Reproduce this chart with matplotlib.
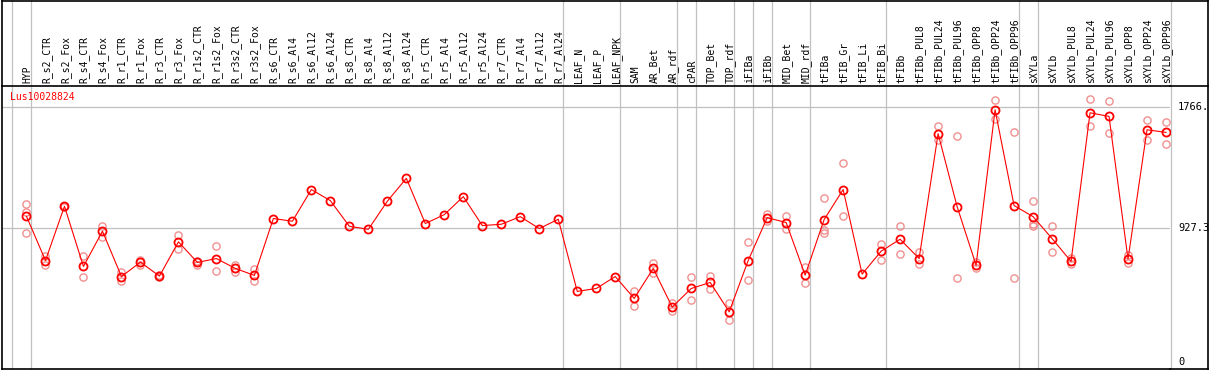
import matplotlib
matplotlib.use("Agg")
import matplotlib.pyplot as plt
from matplotlib.lines import Line2D

gene = "Lus10028824"

samples = ["HYP", "R_s2_CTR", "R_s2_Fox", "R_s4_CTR", "R_s4_Fox", "R_r1_CTR", "R_r1_Fox",
           "R_r3_CTR", "R_r3_Fox", "R_r1s2_CTR", "R_r1s2_Fox", "R_r3s2_CTR", "R_r3s2_Fox",
           "R_s6_CTR", "R_s6_Al4", "R_s6_Al12", "R_s6_Al24", "R_s8_CTR", "R_s8_Al4",
           "R_s8_Al12", "R_s8_Al24", "R_r5_CTR", "R_r5_Al4", "R_r5_Al12", "R_r5_Al24",
           "R_r7_CTR", "R_r7_Al4", "R_r7_Al12", "R_r7_Al24", "LEAF_N", "LEAF_P", "LEAF_NPK",
           "SAM", "AR_Bet", "AR_rdf", "cPAR", "TOP_Bet", "TOP_rdf", "iFIBa", "iFIBb",
           "MID_Bet", "MID_rdf", "tFIBa", "tFIB_Gr", "tFIB_Li", "tFIB_Bi", "tFIBb",
           "tFIBb_PUL8", "tFIBb_PUL24", "tFIBb_PUL96", "tFIBb_OPP8", "tFIBb_OPP24",
           "tFIBb_OPP96", "sXYLa", "sXYLb", "sXYLb_PUL8", "sXYLb_PUL24", "sXYLb_PUL96",
           "sXYLb_OPP8", "sXYLb_OPP24", "sXYLb_OPP96"]

means = [1010, 703, 1080, 662, 907, 592, 692, 595, 833, 690, 717, 648, 600,
         995, 976, 1196, 1119, 941, 920, 1115, 1274, 960, 1022, 1147, 946,
         955, 1008, 925, 990, 489, 509, 592,
         440, 648, 380, 509, 551, 347, 703, 1001, 967, 602,
         988, 1196, 609, 768, 851, 717, 1584, 1078, 671, 1750, 1085,
         1008, 856, 697, 1729, 1704, 713, 1611, 1593]

reps = [[1094, 1040, 891], [735, 671], [1085, 1075], [733, 590], [941, 867],
        [625, 560], [710, 673], [606, 590], [881, 784], [703, 671], [803, 632],
        [669, 625], [646, 560],
        [], [], [], [], [], [], [], [], [], [], [], [], [], [], [], [], [], [], [],
        [491, 387], [685, 618], [405, 354], [592, 428], [595, 507], [405, 290],
        [833, 565], [1027, 978], [1015, 923], [655, 549],
        [1140, 913, 895], [1383, 1015], [], [821, 710], [946, 747],
        [761, 676], [1634, 1537], [1570, 579], [694, 652], [1815, 1688], [1593, 579],
        [1119, 960, 943], [946, 759], [722, 680], [1826, 1637], [1812, 1591],
        [740, 683], [1676, 1542], [1667, 1515]]

# separators are drawn right after these sample indices
groups_end = [-1, 0, 28, 31, 34, 35, 37, 38, 39, 41, 45, 52, 53, 60]

grid_vals = [1766, 927.3]
ylabels = [(1766, "1766."), (927.3, "927.3"), (0, "0")]

W, H = 1209, 370
fig = plt.figure(figsize=(W / 100, H / 100), dpi=100)
ax = fig.add_axes([1.5 / W, 1 - 369 / H, (1170 - 1.5) / W, (369 - 85.5) / H])

ax.set_xlim(-25 / 19, 1144 / 19)
ax.set_ylim(-50, 1918.6)
ax.set_xticks([])
ax.set_yticks([])
for s in ["left", "bottom", "top"]:
    ax.spines[s].set_color("black")
    ax.spines[s].set_linewidth(1.2)
ax.spines["right"].set_visible(False)

grey = "#c0c0c0"
for g in grid_vals:
    ax.axhline(g, color=grey, lw=0.9, zorder=1)
up = 369 / (369 - 85.5)
for e in groups_end:
    ax.axvline(e + 0.25, ymin=0, ymax=up, color=grey, lw=0.9, clip_on=False, zorder=1)

x = list(range(len(samples)))
for i, r in enumerate(reps):
    if r:
        ax.plot([i] * len(r), r, "o", ms=5.2, mfc="none", mec="#f09090", mew=1.0, zorder=2)
ax.plot(x, means, "-", color="red", lw=0.8, zorder=3)
ax.plot(x, means, "o", ms=5.8, mfc="none", mec="red", mew=1.3, zorder=4)

mono = "DejaVu Sans Mono"
tr = ax.get_xaxis_transform()
for i, name in enumerate(samples):
    ax.text(i + 0.05, 1 + 2.5 / 283.5, name, rotation=90, ha="center", va="bottom",
            fontsize=7, family=mono, transform=tr, clip_on=False)

ax.text(0.0075, 0.958, gene, color="red", fontsize=7, family=mono,
        transform=ax.transAxes, ha="left", va="center")

for v, t in ylabels:
    ax.text((1178 - 26) / 19, v, t, fontsize=7.5, family=mono, ha="left", va="center",
            clip_on=False)

# outer frame of the picture
fy = lambda p: 1 - p / H
fx = lambda p: p / W
frame = [((fx(1.5), fx(1207.5)), (fy(0.6), fy(0.6))),
         ((fx(1170), fx(1209)), (fy(85.5), fy(85.5))),
         ((fx(1207.5), fx(1207.5)), (fy(0), fy(369))),
         ((fx(1170), fx(1207.5)), (fy(369), fy(369))),
         ((fx(1.5), fx(1.5)), (fy(0), fy(86)))]
for xs, ys in frame:
    fig.add_artist(Line2D(xs, ys, color="black", lw=1.2))

fig.savefig("out.png", dpi=100)
